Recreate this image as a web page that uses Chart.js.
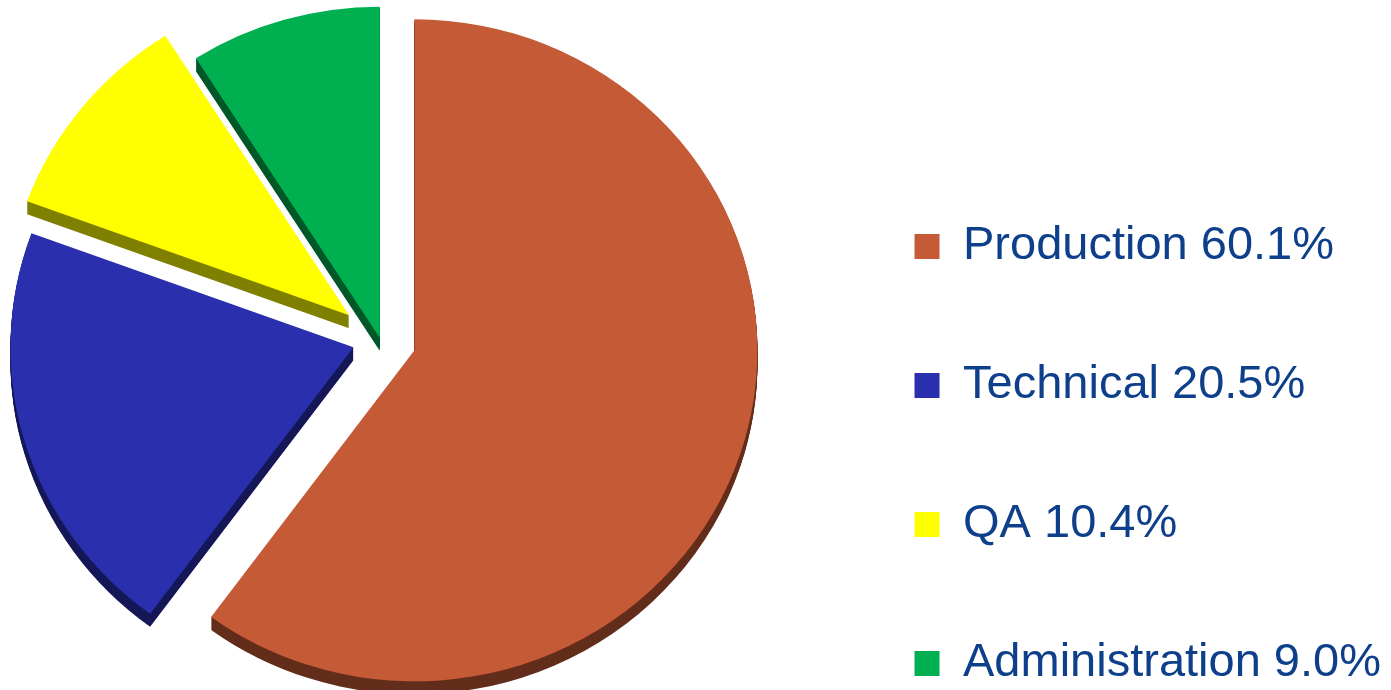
<!DOCTYPE html>
<html>
<head>
<meta charset="utf-8">
<script src="https://cdn.jsdelivr.net/npm/chart.js@4.4.1/dist/chart.umd.min.js"></script>
<style>
    html, body { margin: 0; padding: 0; background: #ffffff; overflow: hidden; }
    body { width: 1391px; height: 690px; position: relative; }
    /* canvas is a bit bigger than the window so the pie sits where it should */
    #wrap { position: absolute; left: -62px; top: -100px; width: 1453px; height: 879px; }
</style>
</head>
<body>
<div id="wrap"><canvas id="chartDepartments"></canvas></div>
<script>
// Staff by department (share of total, %)
const departments = ['Production', 'Technical', 'QA', 'Administration'];
const shares = [60.1, 20.5, 10.4, 9.0];

const sliceColors = ['#c55a36', '#2a2fae', '#ffff00', '#00b050'];
// how far each slice is pulled out, px
// (done in the plugin: Chart.js' own offset also grows the radius of big slices)
const explode = [36, 28, 40, 2];

const TILT = 0.965;  // squash the pie a little, like a tilted 3D pie
const DEPTH = 13;    // thickness of the slices in px

// tilted, exploded pie with darker copies underneath as the slice walls
const tiltPlugin = {
    id: 'tilt',
    beforeDatasetsDraw(chart) {
        const meta = chart.getDatasetMeta(0);
        const cx = meta.data[0].x;
        const cy = meta.data[0].y;
        const ctx = chart.ctx;

        const drawArcs = () => {
            meta.data.forEach((arc, i) => {
                const mid = (arc.startAngle + arc.endAngle) / 2;
                ctx.save();
                ctx.translate(Math.cos(mid) * explode[i], Math.sin(mid) * explode[i]);
                arc.draw(ctx);
                ctx.restore();
            });
        };

        ctx.save();
        ctx.translate(cx, cy);
        ctx.scale(1, TILT);
        ctx.translate(-cx, -cy);

        ctx.save();
        ctx.filter = 'brightness(0.5)';
        for (let d = DEPTH; d > 0; d--) {
            ctx.save();
            ctx.translate(0, d / TILT);
            drawArcs();
            ctx.restore();
        }
        ctx.restore();

        drawArcs();
        ctx.restore();
        return false;
    }
};

const ctxPie = document.getElementById('chartDepartments');
new Chart(ctxPie, {
    type: 'pie',
    data: {
        labels: departments,
        datasets: [{
            data: shares,
            backgroundColor: sliceColors,
            borderWidth: 0,
            radius: 343
        }]
    },
    options: {
        responsive: true,
        maintainAspectRatio: false,
        animation: false,
        events: [],
        plugins: {
            tooltip: { enabled: false },
            legend: {
                position: 'right',
                align: 'end',
                labels: {
                    boxWidth: 25,
                    boxHeight: 25,
                    padding: 92,
                    color: '#0d3f8b',
                    font: {
                        family: '"Liberation Sans", Arial, sans-serif',
                        size: 47
                    },
                    generateLabels(chart) {
                        const items = Chart.overrides.pie.plugins.legend.labels.generateLabels(chart);
                        return items.map(item => ({
                            ...item,
                            text: item.text + ' ' + shares[item.index].toFixed(1) + '%'
                        }));
                    }
                }
            }
        }
    },
    plugins: [tiltPlugin]
});
</script>
</body>
</html>
